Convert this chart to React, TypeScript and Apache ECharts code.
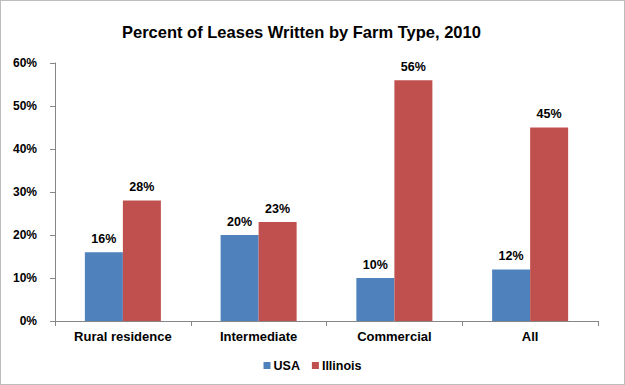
import React, { useEffect, useRef } from "react";
import * as echarts from "echarts";

const categories = ["Rural residence", "Intermediate", "Commercial", "All"];
const usaValues = [16, 20, 10, 12];
const illinoisValues = [28, 23, 56, 45];
const yTicks = [0, 10, 20, 30, 40, 50, 60];

const FONT = "Arial, 'Liberation Sans', sans-serif";

export default function App() {
  const ref = useRef<HTMLDivElement>(null);
  useEffect(() => {
    if (!ref.current) return;
    const chart = echarts.init(ref.current, undefined, { renderer: "svg" });
    const labelStyle = {
      show: true,
      position: "top" as const,
      formatter: "{c}%",
      color: "#000",
      fontFamily: FONT,
      fontWeight: "bold" as const,
      fontSize: 12.5,
      distance: 7,
    };
    chart.setOption({
      animation: false,
      backgroundColor: "#fff",
      title: {
        text: "Percent of Leases Written by Farm Type, 2010",
        left: 121,
        top: 22,
        padding: 0,
        textStyle: { fontFamily: FONT, fontSize: 16.5, fontWeight: "bold", color: "#000" },
      },
      legend: {
        bottom: 7,
        left: "center",
        itemWidth: 7,
        itemHeight: 7,
        itemGap: 12,
        icon: "rect",
        textStyle: { fontFamily: FONT, fontSize: 12.5, fontWeight: "bold", color: "#000", padding: [0, 0, 0, -2] },
        data: ["USA", "Illinois"],
      },
      grid: { left: 54, right: 26, top: 62, bottom: 63, containLabel: false },
      xAxis: {
        type: "category",
        data: categories,
        axisLine: { lineStyle: { color: "#868686" } },
        axisTick: { show: true, length: 5, alignWithLabel: false, lineStyle: { color: "#868686" } },
        axisLabel: { fontFamily: FONT, fontSize: 13, fontWeight: "bold", color: "#000", margin: 9 },
      },
      yAxis: {
        type: "value",
        min: yTicks[0],
        max: yTicks[yTicks.length - 1],
        interval: 10,
        axisLine: { show: true, lineStyle: { color: "#868686" } },
        axisTick: { show: true, length: 5, lineStyle: { color: "#868686" } },
        splitLine: { show: false },
        axisLabel: {
          fontFamily: FONT,
          fontSize: 12,
          fontWeight: "bold",
          color: "#000",
          margin: 18,
          formatter: "{value}%",
        },
      },
      series: [
        {
          name: "USA",
          type: "bar",
          data: usaValues,
          barGap: "0%",
          barCategoryGap: "44%",
          itemStyle: { color: "#4F81BD" },
          label: labelStyle,
        },
        {
          name: "Illinois",
          type: "bar",
          data: illinoisValues,
          barGap: "0%",
          barCategoryGap: "44%",
          itemStyle: { color: "#C0504D" },
          label: labelStyle,
        },
      ],
    });
    return () => chart.dispose();
  }, []);
  return (
    <div
      style={{
        position: "fixed",
        left: 0,
        top: 0,
        width: 625,
        height: 385,
        boxSizing: "border-box",
        border: "1px solid #bdbdbd",
        background: "#fff",
      }}
    >
      <div ref={ref} style={{ width: 623, height: 383 }} />
    </div>
  );
}
